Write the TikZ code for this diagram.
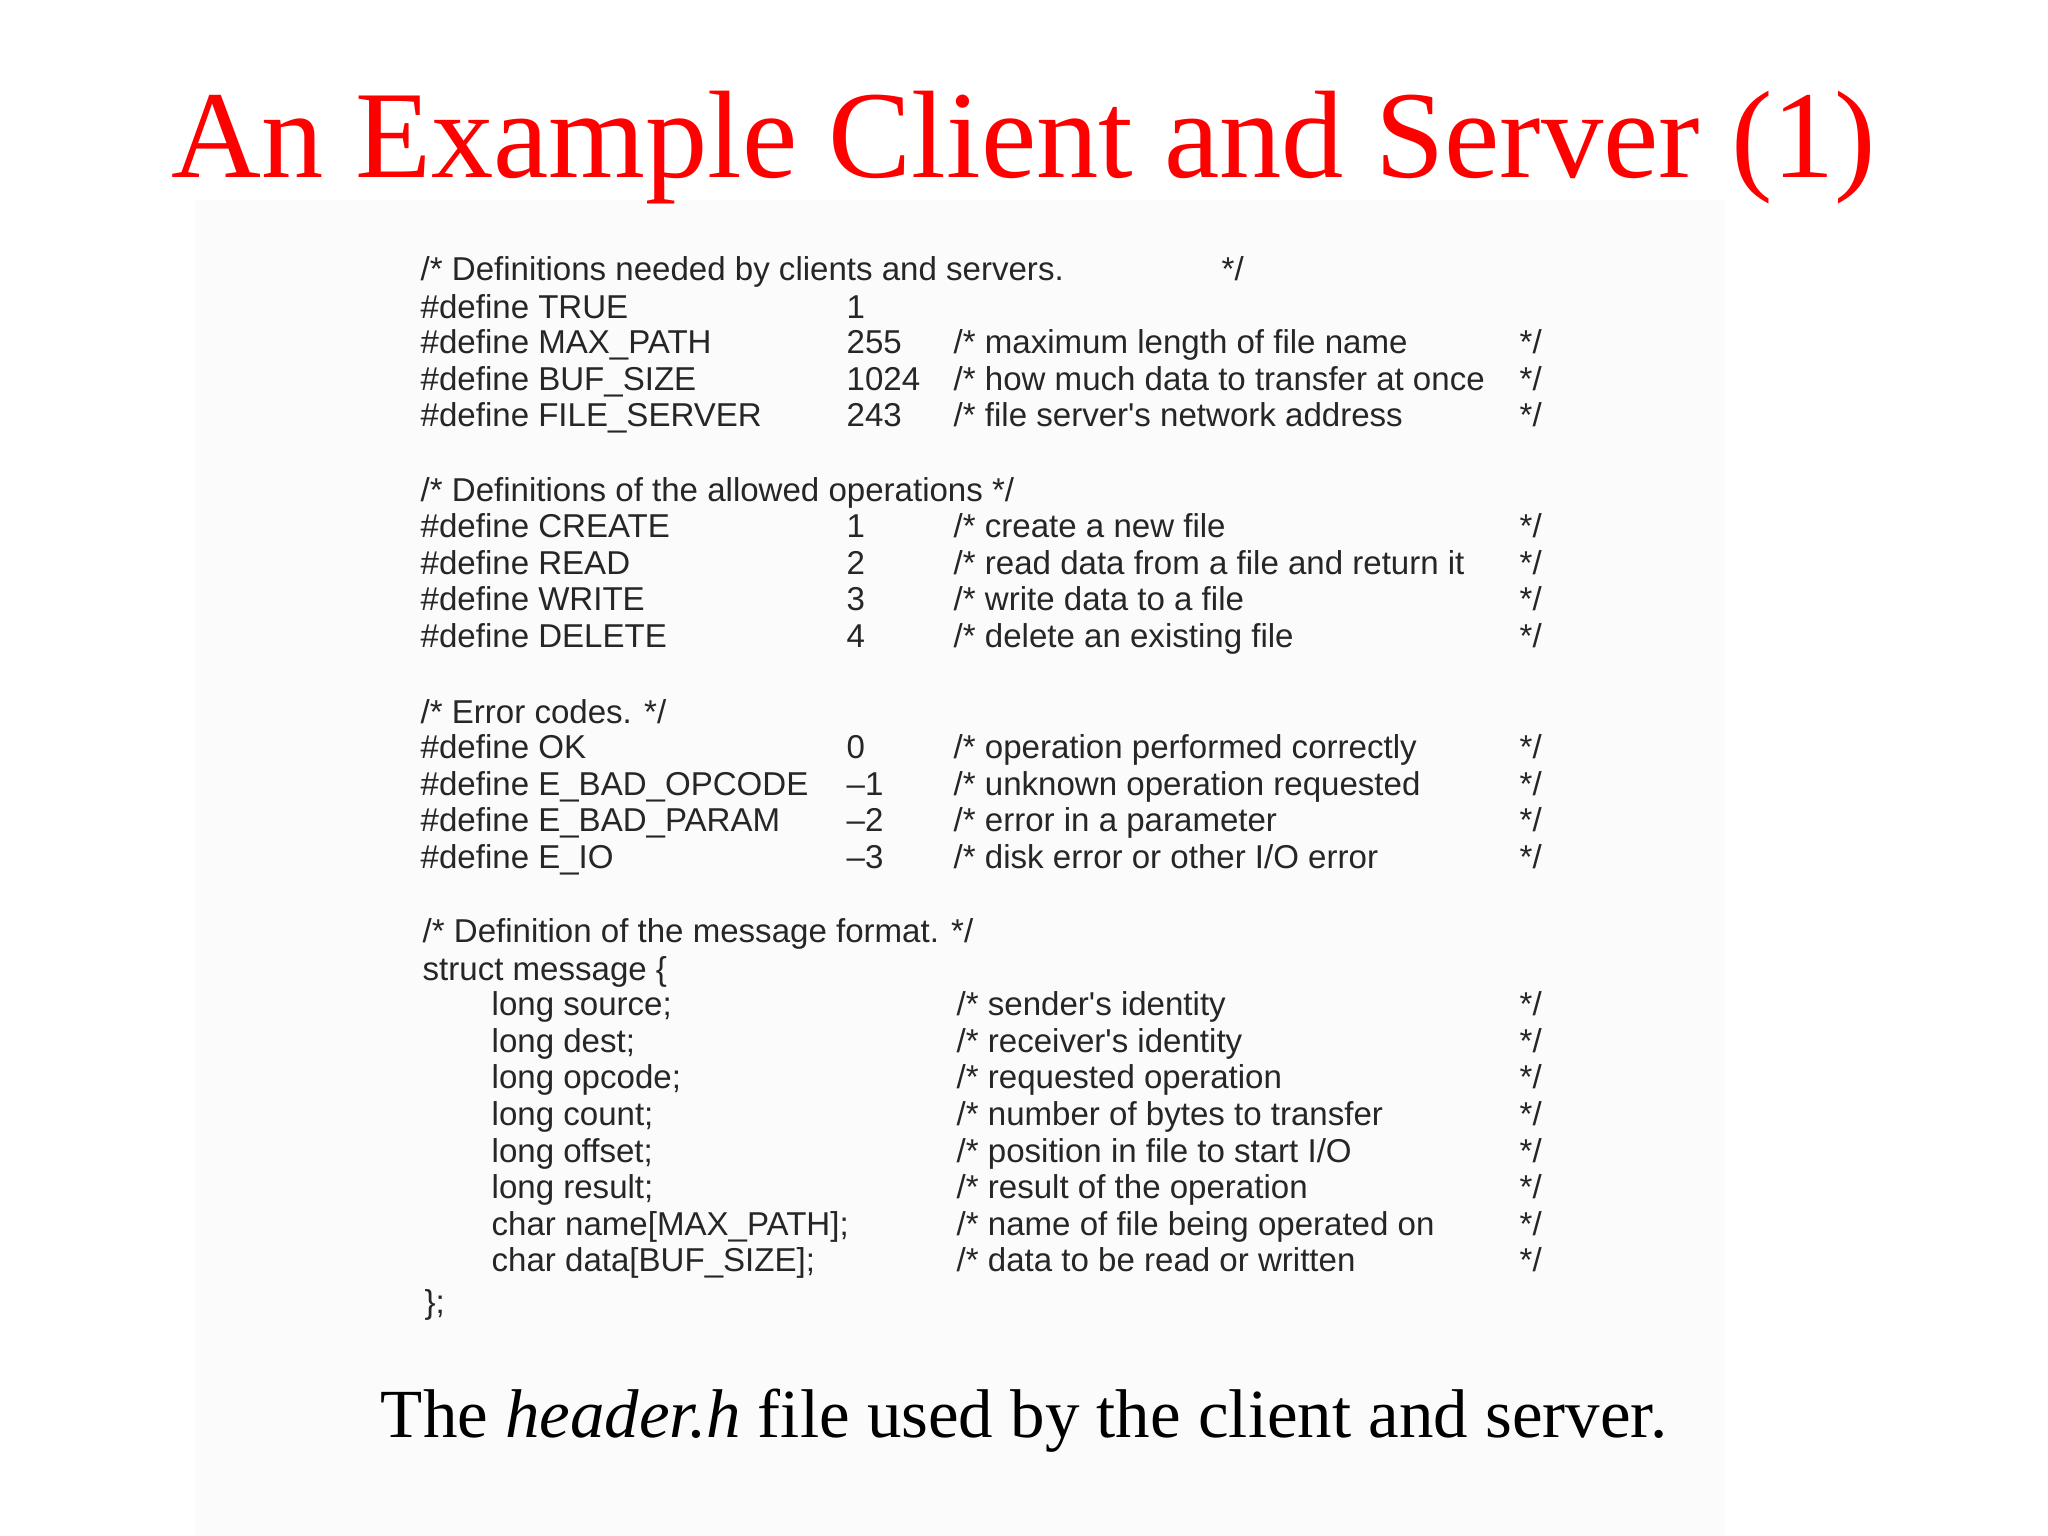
\documentclass[tikz,border=0pt]{standalone}
\usepackage{fontspec}
\setmainfont{Liberation Serif}
\newfontfamily\codefont{Liberation Sans}
\begin{document}
\begin{tikzpicture}[x=0.01cm,y=-0.01cm,
  code/.style={anchor=base west,inner sep=0pt,font=\codefont\fontsize{9.4}{11}\selectfont,text=black!85}]
\useasboundingbox (0,0) rectangle (2048,1536);
\fill[black!1.5] (195,200) rectangle (1725,1536);
\node[text=red,font=\fontsize{35.4}{40}\selectfont] (title) at (1024,148) {An Example Client and Server (1)};
\def\row#1#2#3#4#5#6{%
  \node[code] (a#1) at (420,#2+11) {#3};
  \node[code] (b#1) at (846,#2+11) {#4};
  \node[code] (c#1) at (953,#2+11) {#5};
  \node[code] (d#1) at (1519,#2+11) {#6};}
\node[code] (h1) at (420,280) {/* Definitions needed by clients and servers.};
\node[code] (h1e) at (1221,280) {*/};
\row{1}{307}{\#define TRUE}{1}{}{}
\row{2}{342}{\#define MAX\_PATH}{255}{/* maximum length of file name}{*/}
\row{3}{379}{\#define BUF\_SIZE}{1024}{/* how much data to transfer at once}{*/}
\row{4}{415}{\#define FILE\_SERVER}{243}{/* file server's network address}{*/}
\node[code] (h2) at (420,501) {/* Definitions of the allowed operations */};
\row{5}{526}{\#define CREATE}{1}{/* create a new file}{*/}
\row{6}{563}{\#define READ}{2}{/* read data from a file and return it}{*/}
\row{7}{599}{\#define WRITE}{3}{/* write data to a file}{*/}
\row{8}{636}{\#define DELETE}{4}{/* delete an existing file}{*/}
\node[code] (h3) at (420,723) {/* Error codes. */};
\row{9}{747}{\#define OK}{0}{/* operation performed correctly}{*/}
\row{10}{784}{\#define E\_BAD\_OPCODE}{–1}{/* unknown operation requested}{*/}
\row{11}{820}{\#define E\_BAD\_PARAM}{–2}{/* error in a parameter}{*/}
\row{12}{857}{\#define E\_IO}{–3}{/* disk error or other I/O error}{*/}
\node[code] (h4) at (422,942) {/* Definition of the message format. */};
\node[code] (h5) at (422,980) {struct message \{};
\def\mrow#1#2#3#4{%
  \node[code] (m#1) at (491,#2+11) {#3};
  \node[code] (n#1) at (956,#2+11) {#4};
  \node[code] (o#1) at (1519,#2+11) {*/};}
\mrow{1}{1004}{long source;}{/* sender's identity}
\mrow{2}{1041}{long dest;}{/* receiver's identity}
\mrow{3}{1077}{long opcode;}{/* requested operation}
\mrow{4}{1114}{long count;}{/* number of bytes to transfer}
\mrow{5}{1151}{long offset;}{/* position in file to start I/O}
\mrow{6}{1187}{long result;}{/* result of the operation}
\mrow{7}{1224}{char name[MAX\_PATH];}{/* name of file being operated on}
\mrow{8}{1260}{char data[BUF\_SIZE];}{/* data to be read or written}
\node[code] (end) at (424,1313) {\};};
\node[font=\fontsize{19.6}{22}\selectfont] (cap) at (1024,1421) {The \textit{header.h} file used by the client and server.};
\end{tikzpicture}
\end{document}
